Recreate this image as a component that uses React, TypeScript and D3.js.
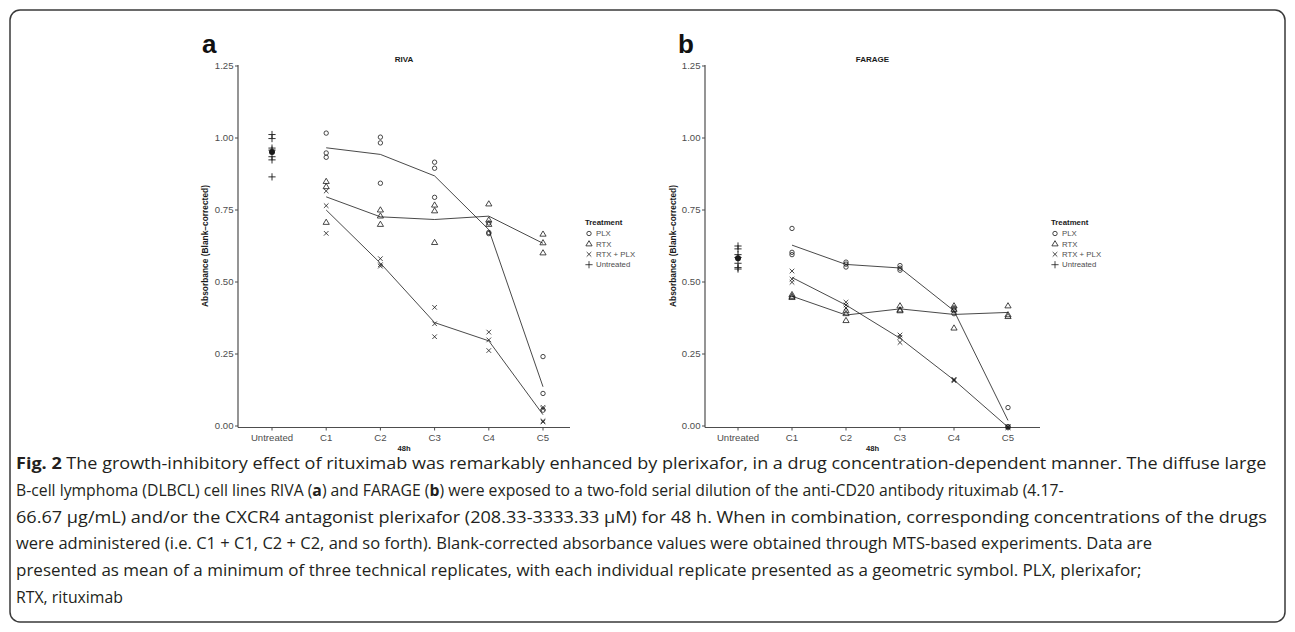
import React, { useEffect, useRef } from "react";
import * as d3 from "d3";

// ---------- data ----------
const categories = ["Untreated", "C1", "C2", "C3", "C4", "C5"];
const doseCats = ["C1", "C2", "C3", "C4", "C5"];
const yTickValues = [0, 0.25, 0.5, 0.75, 1.0, 1.25];
const treatments = ["PLX", "RTX", "RTX + PLX", "Untreated"];

const rivaPLX = [[1.017, 0.948, 0.933], [1.003, 0.983, 0.843], [0.916, 0.895, 0.794], [0.705, 0.672, 0.668], [0.241, 0.113, 0.055]];
const rivaRTX = [[0.849, 0.831, 0.707], [0.75, 0.729, 0.70], [0.767, 0.747, 0.637], [0.771, 0.715, 0.70], [0.666, 0.636, 0.601]];
const rivaCombo = [[0.816, 0.765, 0.669], [0.581, 0.56, 0.555], [0.412, 0.355, 0.31], [0.326, 0.299, 0.262], [0.065, 0.06, 0.018, 0.014]];
const rivaUntreated = [1.012, 0.998, 0.965, 0.958, 0.935, 0.924, 0.865];

const faragePLX = [[0.686, 0.603, 0.595], [0.569, 0.562, 0.552], [0.557, 0.548, 0.541], [0.41, 0.40, 0.39], [0.064, -0.002, -0.004]];
const farageRTX = [[0.456, 0.45, 0.446], [0.40, 0.39, 0.366], [0.417, 0.403, 0.40], [0.417, 0.405, 0.34], [0.417, 0.386, 0.38]];
const farageCombo = [[0.538, 0.51, 0.499], [0.43, 0.42, 0.41], [0.316, 0.308, 0.29], [0.162, 0.16, 0.157], [-0.002, -0.004, -0.006]];
const farageUntreated = [0.625, 0.615, 0.595, 0.585, 0.565, 0.55, 0.545];

const captionLines: { t: string; b?: boolean }[][] = [
  [{ t: "Fig. 2", b: true }, { t: " The growth-inhibitory effect of rituximab was remarkably enhanced by plerixafor, in a drug concentration-dependent manner. The diffuse large" }],
  [{ t: "B-cell lymphoma (DLBCL) cell lines RIVA (" }, { t: "a", b: true }, { t: ") and FARAGE (" }, { t: "b", b: true }, { t: ") were exposed to a two-fold serial dilution of the anti-CD20 antibody rituximab (4.17-" }],
  [{ t: "66.67 μg/mL) and/or the CXCR4 antagonist plerixafor (208.33-3333.33 μM) for 48 h. When in combination, corresponding concentrations of the drugs" }],
  [{ t: "were administered (i.e. C1 + C1, C2 + C2, and so forth). Blank-corrected absorbance values were obtained through MTS-based experiments. Data are" }],
  [{ t: "presented as mean of a minimum of three technical replicates, with each individual replicate presented as a geometric symbol. PLX, plerixafor;" }],
  [{ t: "RTX, rituximab" }],
];
const captionWidths = [1252, 1048, 1252, 1137, 1126, 107];

// ---------- layout ----------
const Y0 = 426, Y1 = 66;
const panels = [
  { name: "RIVA", letter: "a", plx: rivaPLX, rtx: rivaRTX, combo: rivaCombo, untreated: rivaUntreated,
    axisX: 238, axisEnd: 570, first: 272, last: 543, ylabX: 205, letterX: 202, legendX: 585 },
  { name: "FARAGE", letter: "b", plx: faragePLX, rtx: farageRTX, combo: farageCombo, untreated: farageUntreated,
    axisX: 705, axisEnd: 1040, first: 738, last: 1008, ylabX: 673, letterX: 678, legendX: 1051 },
];

const INK = "#1a1a1a";
const AXIS = "#4d4d4d";
const FONT = "'Liberation Sans', Arial, sans-serif";

function symbolPath(kind: string, x: number, y: number): string {
  if (kind === "PLX") {
    const r = 2.2;
    return `M${x - r},${y}a${r},${r} 0 1,0 ${2 * r},0a${r},${r} 0 1,0 ${-2 * r},0`;
  }
  if (kind === "RTX") {
    const h = 5.2, w = 6.2;
    return `M${x},${y - h * 0.62}L${x + w / 2},${y + h * 0.38}L${x - w / 2},${y + h * 0.38}Z`;
  }
  if (kind === "RTX + PLX") {
    const s = 2.3;
    return `M${x - s},${y - s}L${x + s},${y + s}M${x - s},${y + s}L${x + s},${y - s}`;
  }
  const s = 3.6;
  return `M${x - s},${y}L${x + s},${y}M${x},${y - s}L${x},${y + s}`;
}

function Panel({ p }: { p: typeof panels[number] }) {
  const x = d3.scalePoint<string>().domain(categories).range([p.first, p.last]);
  const y = d3.scaleLinear().domain([0, 1.25]).range([Y0, Y1]);
  const series = [
    { key: "PLX", data: p.plx },
    { key: "RTX", data: p.rtx },
    { key: "RTX + PLX", data: p.combo },
  ];
  const line = d3.line<[string, number]>().x((d) => x(d[0])!).y((d) => y(d[1]));
  const ux = x("Untreated")!;
  const umean = d3.mean(p.untreated)!;
  const midX = (p.axisX + p.axisEnd) / 2;
  return (
    <g>
      <text x={p.letterX} y={53} fontFamily={FONT} fontWeight="bold" fontSize={26} fill="#111">{p.letter}</text>
      <text x={midX} y={62} textAnchor="middle" fontFamily={FONT} fontWeight="bold" fontSize={8} fill={INK}>{p.name}</text>
      <line x1={p.axisX} x2={p.axisX} y1={Y1 - 1} y2={Y0 + 1.5} stroke={AXIS} strokeWidth={1.2} />
      <line x1={p.axisX} x2={p.axisEnd} y1={Y0 + 1.5} y2={Y0 + 1.5} stroke={AXIS} strokeWidth={1.2} />
      {yTickValues.map((v) => (
        <g key={v}>
          <line x1={p.axisX - 3} x2={p.axisX} y1={y(v)} y2={y(v)} stroke={AXIS} strokeWidth={1} />
          <text x={p.axisX - 4.5} y={y(v)} dy="0.35em" textAnchor="end" fontFamily={FONT} fontSize={9.6} fill={AXIS}>{d3.format(".2f")(v)}</text>
        </g>
      ))}
      {categories.map((c) => (
        <g key={c}>
          <line x1={x(c)} x2={x(c)} y1={Y0 + 1.5} y2={Y0 + 4.5} stroke={AXIS} strokeWidth={1} />
          <text x={x(c)} y={Y0 + 14.5} textAnchor="middle" fontFamily={FONT} fontSize={9.6} fill={AXIS}>{c}</text>
        </g>
      ))}
      <text x={midX} y={Y0 + 24.5} textAnchor="middle" fontFamily={FONT} fontWeight="bold" fontSize={7.6} fill={INK}>48h</text>
      <text transform={`translate(${p.ylabX},${(Y0 + Y1) / 2}) rotate(-90)`} textAnchor="middle" dy="0.35em" fontFamily={FONT} fontWeight="bold" fontSize={8.4} fill={INK}>Absorbance (Blank–corrected)</text>
      {series.map((s) => (
        <path key={s.key} d={line(doseCats.map((c, i) => [c, d3.mean(s.data[i])!] as [string, number]))!} fill="none" stroke={INK} strokeWidth={0.8} />
      ))}
      {series.map((s) =>
        s.data.map((vals, i) =>
          vals.map((v, j) => (
            <path key={`${s.key}-${i}-${j}`} d={symbolPath(s.key, x(doseCats[i])!, y(v))} fill="none" stroke={INK} strokeWidth={0.8} />
          ))
        )
      )}
      {p.untreated.map((v, j) => (
        <path key={`u-${j}`} d={symbolPath("Untreated", ux, y(v))} fill="none" stroke={INK} strokeWidth={0.9} />
      ))}
      <circle cx={ux} cy={y(umean)} r={3} fill={INK} />
      <text x={p.legendX} y={225} fontFamily={FONT} fontWeight="bold" fontSize={7.8} fill={INK}>Treatment</text>
      {treatments.map((t, i) => {
        const cy = 233.5 + i * 10.4;
        return (
          <g key={t}>
            <path d={symbolPath(t, p.legendX + 4, cy)} fill="none" stroke={INK} strokeWidth={0.8} />
            <text x={p.legendX + 11} y={cy} dy="0.35em" fontFamily={FONT} fontSize={7.8} fill={AXIS}>{t}</text>
          </g>
        );
      })}
    </g>
  );
}

export default function App() {
  const capRefs = useRef<(SVGTextElement | null)[]>([]);
  useEffect(() => {
    document.body.style.margin = "0";
    capRefs.current.forEach((el, i) => {
      if (!el) return;
      const w = el.getComputedTextLength();
      if (w > 0) d3.select(el).attr("transform", `scale(${captionWidths[i] / w},1)`);
    });
  }, []);
  return (
    <svg width={1295} height={632} style={{ display: "block", background: "#fff" }}>
      <rect x={10} y={10} width={1275} height={612} rx={10} ry={10} fill="#fff" stroke="#3a3a3a" strokeWidth={1.5} />
      {panels.map((p) => <Panel key={p.name} p={p} />)}
      {captionLines.map((segs, i) => (
        <g key={i} transform={`translate(16,${469 + i * 26.8})`}>
          <text ref={(el) => { capRefs.current[i] = el; }} x={0} y={0} fontFamily="'Open Sans', 'Noto Sans', sans-serif" fontSize={16.5} fill="#231f20">
            {segs.map((s, k) => (
              <tspan key={k} fontWeight={s.b ? "bold" : "normal"}>{s.t}</tspan>
            ))}
          </text>
        </g>
      ))}
    </svg>
  );
}
